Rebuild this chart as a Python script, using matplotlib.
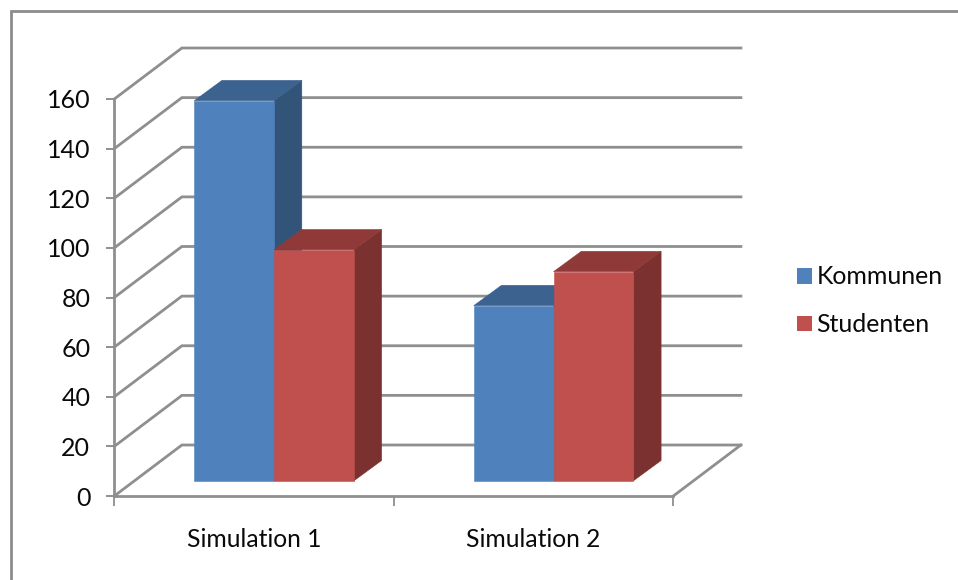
import matplotlib
matplotlib.use("Agg")
import matplotlib.pyplot as plt
from matplotlib.patches import Polygon, Rectangle
from matplotlib.lines import Line2D

categories = ["Simulation 1", "Simulation 2"]
series_names = ["Kommunen", "Studenten"]
kommunen = [153.2, 70.6]
studenten = [93.1, 84.3]
y_ticks = list(range(0, 161, 20))

W, H = 958, 580
plt.rcParams["font.family"] = ["Lato", "Open Sans", "DejaVu Sans"]
fig = plt.figure(figsize=(W / 100, H / 100), dpi=100, facecolor="white")

# front plane of the chart box, in pixels
L, R, T, B = 114.3, 673.3, 99.0, 496.0
ax = fig.add_axes([L / W, 1 - B / H, (R - L) / W, (B - T) / H])
ax.set_xlim(0, 2)
ax.set_ylim(0, 160)
ax.patch.set_alpha(0)

ppx = (R - L) / 2
ppy = (B - T) / 160
# oblique depth vector of the box, in data units
DX, DY = 67.6 / ppx, 51.0 / ppy
# depth geometry of a bar, in data units
BAR_DX, BAR_DY = 27.7 / ppx, 20.3 / ppy
BASE = 15.2 / ppy          # the bars stand a little behind the front edge
BW = 79.8 / ppx
START = 80.0 / ppx

GRID = "#8f8f8f"
lw = 2.0
for v in y_ticks:
    ax.add_line(Line2D([0, DX, 2 + DX], [v, v + DY, v + DY], color=GRID, lw=lw,
                       clip_on=False, zorder=1, solid_joinstyle="miter"))
ax.add_line(Line2D([2, 2 + DX], [0, DY], color=GRID, lw=lw, clip_on=False, zorder=1))

for s in ["top", "right"]:
    ax.spines[s].set_visible(False)
for s in ["left", "bottom"]:
    ax.spines[s].set_color(GRID)
    ax.spines[s].set_linewidth(lw)
    ax.spines[s].set_zorder(1.5)

TEXT = "#0a0a0a"
ax.set_yticks(y_ticks)
ax.set_xticks([0, 1, 2])
ax.set_xticklabels([])
ax.set_xticks([0.5, 1.5], minor=True)
ax.set_xticklabels(categories, minor=True, fontsize=17.7, color=TEXT)
ax.tick_params(axis="y", length=5.8, width=1.4, color=GRID, labelsize=18.0,
               labelcolor=TEXT, pad=11.5)
ax.tick_params(axis="x", which="major", length=7.0, width=1.3, color=GRID)
ax.tick_params(axis="x", which="minor", length=0, pad=23)


def bar3d(x0, value, face, top, side, z):
    xa, xb = x0, x0 + BW
    y0, y1 = BASE, BASE + value
    kw = dict(clip_on=False, zorder=z, lw=0.4)
    ax.add_patch(Polygon([(xb, y0), (xb + BAR_DX, y0 + BAR_DY), (xb + BAR_DX, y1 + BAR_DY), (xb, y1)],
                         facecolor=side, edgecolor=side, **kw))
    ax.add_patch(Polygon([(xa, y1), (xb, y1), (xb + BAR_DX, y1 + BAR_DY), (xa + BAR_DX, y1 + BAR_DY)],
                         facecolor=top, edgecolor=top, **kw))
    ax.add_patch(Rectangle((xa, y0), BW, value, facecolor=face, edgecolor=face, **kw))


BLUE = ("#4f81bd", "#3c6290", "#335479")
RED = ("#c0504d", "#8f3a38", "#7a3130")
for i in range(len(categories)):
    bar3d(i + START, kommunen[i], *BLUE, z=3 + i)
    bar3d(i + START + BW, studenten[i], *RED, z=3.5 + i)

# chart frame
fig.add_artist(Line2D([10.7 / W, 10.7 / W, 1.0], [0, 1 - 11 / H, 1 - 11 / H], color="#8c8c8c", lw=2.0,
                      transform=fig.transFigure, solid_joinstyle="miter"))

# legend
handles = [Rectangle((0, 0), 1, 1, facecolor=BLUE[0]), Rectangle((0, 0), 1, 1, facecolor=RED[0])]
fig.legend(handles, series_names, loc="upper left", bbox_to_anchor=(797 / W, 1 - 265.5 / H),
           frameon=False, fontsize=17.9, handlelength=0.6, handleheight=0.6, handletextpad=0.18,
           labelspacing=1.0, borderpad=0, borderaxespad=0, labelcolor=TEXT)

fig.savefig("out.png", dpi=100, facecolor="white")
